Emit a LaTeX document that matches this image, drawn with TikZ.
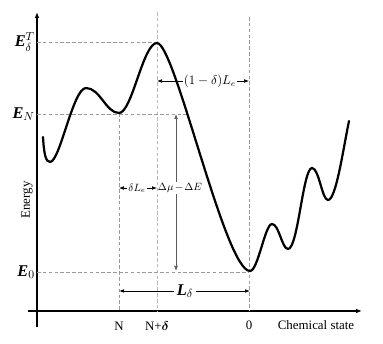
\documentclass[tikz,border=0pt]{standalone}
\usepackage{amsmath}
\usepackage{amssymb}
\usepackage{bm}
\usepackage{fontspec}
\setmainfont{Liberation Serif}
\usetikzlibrary{arrows.meta,positioning}

\begin{document}
\begin{tikzpicture}[
    x=0.03cm,y=-0.03cm,
    axis/.style={line width=1.3pt, -{Latex[length=1.8mm,width=1.4mm]}},
    guide/.style={dashed, gray!80, line width=0.6pt, dash pattern=on 3pt off 2pt},
    guidelight/.style={guide, gray!55},
    profile/.style={line width=1.9pt, line cap=round},
    dim/.style={-{Latex[length=1.5mm,width=1.1mm]}, line width=0.5pt},
    elabel/.style={font=\fontsize{14}{16}\selectfont, inner sep=0pt},
    tick/.style={font=\fontsize{11}{13}\selectfont, inner sep=1pt},
    small/.style={font=\fontsize{10.5}{12}\selectfont, inner sep=1pt},
    tiny/.style={font=\fontsize{9}{11}\selectfont, inner sep=1pt}
  ]
    \useasboundingbox (0,0) rectangle (383,344);

    % key points of the profile
    \coordinate (start) at (43,137);
    \coordinate (peak) at (157,43);
    \coordinate (minN) at (119,113);
    \coordinate (minO) at (250,271);

    % axes
    \draw[axis] (37,327) -- (37,12);
    \draw[axis] (28,311) -- (362,311);

    % guide lines
    \draw[guide] (37,42) -- (157,42);
    \draw[guidelight] (157,12) -- (157,311);
    \draw[guide] (37,114) -- (188,114);
    \draw[guide] (minN) -- (119,311);
    \draw[guide] (249,17) -- (249,311);
    \draw[guide] (37,272) -- (249,272);

    % energy profile
    \draw[profile] (start)
      .. controls (44,155) and (46,162) .. (50,162)
      .. controls (60,162) and (73,88) .. (86,88)
      .. controls (100,88) and (106,113) .. (minN)
      .. controls (132,113) and (143,43) .. (peak)
      .. controls (175,43) and (225,271) .. (minO)
      .. controls (258,271) and (265,224) .. (272,224)
      .. controls (279,224) and (282,249) .. (288,249)
      .. controls (298,249) and (303,168) .. (312,168)
      .. controls (319,168) and (322,200) .. (328,200)
      .. controls (336,200) and (343,150) .. (349,121);

    % level labels
    \node[elabel, anchor=east] (ET) at (35,42) {\textbf{\textit{E}}$_{\delta}^{T}$};
    \node[elabel, anchor=east] (EN) at (35,114) {\textbf{\textit{E}}$_{N}$};
    \node[elabel, anchor=east] (EO) at (35,272) {\textbf{\textit{E}}$_{0}$};
    \node[tick, rotate=90] (energy) at (27,200) {Energy};

    % axis tick labels
    \node[tick] (tN) at (119,326) {N};
    \node[tick] (tNd) at (157,326) {N+$\bm{\delta}$};
    \node[tick] (tO) at (249,325) {0};
    \node[tick] (chem) at (316,325) {Chemical state};

    % dimensions
    \node[small] (wtop) at (210,81) {$(1-\delta)L_e$};
    \draw[dim] (wtop.west) -- (wtop.west -| peak);
    \draw[dim] (wtop.east) -- (249,81);

    \node[tiny] (wleft) at (137,188) {$\delta L_e$};
    \draw[dim] (wleft.west) -- (wleft.west -| minN);
    \draw[dim] (wleft.east) -- (wleft.east -| peak);

    \coordinate (dtop) at (176,114);
    \coordinate (dbot) at (176,271);
    \node[tiny] (dmu) at (180,188) {$\Delta\mu\mkern-2mu-\mkern-2mu\Delta E$};
    \draw[dim, gray!70!black] (dmu.north -| dtop) -- (dtop);
    \draw[dim, gray!70!black] (dmu.south -| dbot) -- (dbot);

    \node[elabel, inner sep=2pt] (Ld) at (185,291) {\textbf{\textit{L}}$_{\delta}$};
    \draw[dim, line width=0.8pt] (Ld.west) -- (Ld.west -| minN);
    \draw[dim, line width=0.8pt] (Ld.east) -- (Ld.east -| minO);
  \end{tikzpicture}
\end{document}
